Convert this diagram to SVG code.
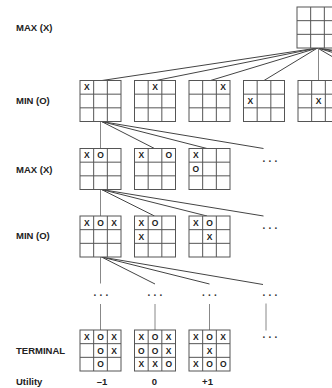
<svg xmlns="http://www.w3.org/2000/svg" xmlns:xlink="http://www.w3.org/1999/xlink" width="332" height="388" viewBox="0 0 332 388">
<style>
.lbl{font-family:"Liberation Sans",Arial,sans-serif;font-weight:bold;font-size:9.5px;fill:#222}
.m{font-family:"Liberation Sans",Arial,sans-serif;font-weight:bold;font-size:8.5px;fill:#222;text-anchor:middle}
.val{font-family:"Liberation Sans",Arial,sans-serif;font-weight:bold;font-size:9.5px;fill:#222;text-anchor:middle}
.dots{font-family:"Liberation Sans",Arial,sans-serif;font-weight:bold;font-size:10px;fill:#333;letter-spacing:3.2px}
.grid{fill:#fff;stroke:#555;stroke-width:1}
.gl{fill:none;stroke:#555;stroke-width:1}
.c{stroke:#444;stroke-width:1;fill:none}
.v{stroke:#888;stroke-width:1;fill:none}
</style>
<defs>
<g id="board">
<rect class="grid" x="0" y="0" width="41" height="41"/>
<path class="gl" d="M13.67 0V41M27.33 0V41M0 13.67H41M0 27.33H41"/>
</g>
</defs>

<g id="labels">
<text class="lbl" x="16" y="30.5">MAX (X)</text>
<text class="lbl" x="16" y="103.5">MIN (O)</text>
<text class="lbl" x="16" y="172.8">MAX (X)</text>
<text class="lbl" x="16" y="238.5">MIN (O)</text>
<text class="lbl" x="16" y="353.5">TERMINAL</text>
<text class="lbl" x="16" y="385">Utility</text>
</g>

<g id="connectors">
<path class="c" d="M317.5 48L102 80.5M317.5 48L156 80.5M317.5 48L210.5 80.5M317.5 48L264 80.5M317.5 48L373 80.5M317.5 48L427.5 80.5M317.5 48L482 80.5M317.5 48L536.5 80.5"/>
<path class="v" d="M318.5 48V80.5"/>
<path class="v" d="M100.5 121.5V148.5"/>
<path class="c" d="M101.5 121.5L154.5 148.5M101.5 121.5L207 148.5M101.5 121.5L263.5 148.5"/>
<path class="v" d="M100.5 189.5V216"/>
<path class="c" d="M101.5 189.5L154.5 216M101.5 189.5L207 216M101.5 189.5L263.5 216"/>
<path class="v" d="M100.5 257V283.5"/>
<path class="c" d="M101.5 257L155 284M101.5 257L209.5 284M101.5 257L263 284.5"/>
<path class="v" d="M100.5 304V330M155 304V330M209.5 304V330M266 303.5V330.5"/>
</g>

<g id="root"><use xlink:href="#board" x="297" y="7"/></g>

<g id="min1">
<use xlink:href="#board" x="80" y="80.5"/>
<text class="m" x="86.8" y="90.3">X</text>
</g>
<g id="min2">
<use xlink:href="#board" x="134.5" y="80.5"/>
<text class="m" x="155" y="90.3">X</text>
</g>
<g id="min3">
<use xlink:href="#board" x="189" y="80.5"/>
<text class="m" x="223.2" y="90.3">X</text>
</g>
<g id="min4">
<use xlink:href="#board" x="243.5" y="80.5"/>
<text class="m" x="250.3" y="104">X</text>
</g>
<g id="min5">
<use xlink:href="#board" x="298" y="80.5"/>
<text class="m" x="318.5" y="104">X</text>
</g>

<g id="max1">
<use xlink:href="#board" x="80" y="148.5"/>
<text class="m" x="86.8" y="158.3">X</text>
<text class="m" x="100.5" y="158.3">O</text>
</g>
<g id="max2">
<use xlink:href="#board" x="134.5" y="148.5"/>
<text class="m" x="141.3" y="158.3">X</text>
<text class="m" x="168.7" y="158.3">O</text>
</g>
<g id="max3">
<use xlink:href="#board" x="189" y="148.5"/>
<text class="m" x="195.8" y="158.3">X</text>
<text class="m" x="195.8" y="172">O</text>
</g>
<g id="maxdots"><text class="dots" x="262.6" y="162.2">...</text></g>

<g id="minb1">
<use xlink:href="#board" x="80" y="216"/>
<text class="m" x="86.8" y="225.8">X</text>
<text class="m" x="100.5" y="225.8">O</text>
<text class="m" x="114.2" y="225.8">X</text>
</g>
<g id="minb2">
<use xlink:href="#board" x="134.5" y="216"/>
<text class="m" x="141.3" y="225.8">X</text>
<text class="m" x="155" y="225.8">O</text>
<text class="m" x="141.3" y="239.5">X</text>
</g>
<g id="minb3">
<use xlink:href="#board" x="189" y="216"/>
<text class="m" x="195.8" y="225.8">X</text>
<text class="m" x="209.5" y="225.8">O</text>
<text class="m" x="209.5" y="239.5">X</text>
</g>
<g id="mindots"><text class="dots" x="262.6" y="228.8">...</text></g>

<g id="dots4">
<text class="dots" x="93.6" y="296">...</text>
<text class="dots" x="147.6" y="296">...</text>
<text class="dots" x="202.1" y="296">...</text>
<text class="dots" x="262.6" y="296">...</text>
<text class="dots" x="262.6" y="337.5">...</text>
</g>

<g id="term1">
<use xlink:href="#board" x="80" y="330"/>
<text class="m" x="86.8" y="339.8">X</text>
<text class="m" x="100.5" y="339.8">O</text>
<text class="m" x="114.2" y="339.8">X</text>
<text class="m" x="100.5" y="353.5">O</text>
<text class="m" x="114.2" y="353.5">X</text>
<text class="m" x="100.5" y="367.2">O</text>
</g>
<g id="term2">
<use xlink:href="#board" x="134.5" y="330"/>
<text class="m" x="141.3" y="339.8">X</text>
<text class="m" x="155" y="339.8">O</text>
<text class="m" x="168.7" y="339.8">X</text>
<text class="m" x="141.3" y="353.5">O</text>
<text class="m" x="155" y="353.5">O</text>
<text class="m" x="168.7" y="353.5">X</text>
<text class="m" x="141.3" y="367.2">X</text>
<text class="m" x="155" y="367.2">X</text>
<text class="m" x="168.7" y="367.2">O</text>
</g>
<g id="term3">
<use xlink:href="#board" x="189" y="330"/>
<text class="m" x="195.8" y="339.8">X</text>
<text class="m" x="209.5" y="339.8">O</text>
<text class="m" x="223.2" y="339.8">X</text>
<text class="m" x="209.5" y="353.5">X</text>
<text class="m" x="195.8" y="367.2">X</text>
<text class="m" x="209.5" y="367.2">O</text>
<text class="m" x="223.2" y="367.2">O</text>
</g>

<g id="utility">
<text class="val" x="102" y="385">–1</text>
<text class="val" x="154.5" y="385">0</text>
<text class="val" x="207.5" y="385">+1</text>
</g>
</svg>
